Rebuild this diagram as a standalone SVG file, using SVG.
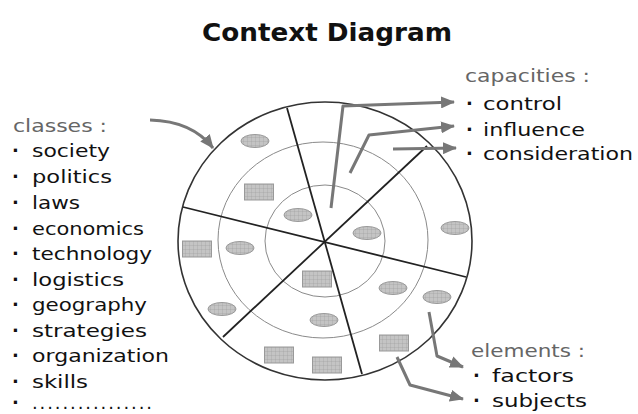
<svg xmlns="http://www.w3.org/2000/svg" width="638" height="414" viewBox="0 0 638 414">
<style>
text{font-family:"Comic Sans MS","DejaVu Sans",sans-serif;}
.t{font-size:24px;font-weight:bold;fill:#111;}
.h{font-size:18px;fill:#666;}
.i{font-size:18px;fill:#111;}
.b{font-size:18px;fill:#111;font-weight:bold;}
.outer{fill:none;stroke:#333;stroke-width:1.6;}
.ring{fill:none;stroke:#8a8a8a;stroke-width:1;}
.spoke{stroke:#222;stroke-width:1.8;}
.arr{fill:none;stroke:#777;stroke-width:3;stroke-linejoin:round;marker-end:url(#ah);}
.el{fill:url(#grid);stroke:#999;stroke-width:1;}
</style>
<defs>
<pattern id="grid" width="4" height="4" patternUnits="userSpaceOnUse">
<rect width="4" height="4" fill="#c4c4c4"/>
<path d="M0,0 H4 M0,0 V4" stroke="#9a9a9a" stroke-width="0.6"/>
</pattern>
<marker id="ah" markerUnits="userSpaceOnUse" markerWidth="14" markerHeight="12" refX="13" refY="6" orient="auto">
<path d="M0,0 L14,6 L0,12 z" fill="#777"/>
</marker>
<symbol id="ov" overflow="visible"><ellipse cx="0" cy="0" rx="14" ry="6.5" class="el"/></symbol>
<symbol id="bx" overflow="visible"><rect x="-14.5" y="-8" width="29" height="16" class="el"/></symbol>
</defs>
<rect width="638" height="414" fill="#fff"/>
<g id="title"><text class="t" x="202" y="41" textLength="250" lengthAdjust="spacingAndGlyphs">Context Diagram</text></g>
<g id="wheel">
<ellipse class="outer" cx="325" cy="241" rx="147" ry="139"/>
<ellipse class="ring" cx="323" cy="240" rx="105" ry="98"/>
<ellipse class="ring" cx="325" cy="241" rx="60" ry="56"/>
<line class="spoke" x1="287" y1="108" x2="362" y2="374"/>
<line class="spoke" x1="183" y1="207" x2="466" y2="277"/>
<line class="spoke" x1="427" y1="146" x2="223" y2="337"/>
<use href="#ov" x="255" y="141"/>
<use href="#ov" x="298" y="215"/>
<use href="#ov" x="367" y="233"/>
<use href="#ov" x="455" y="228"/>
<use href="#ov" x="240" y="248"/>
<use href="#ov" x="222" y="309"/>
<use href="#ov" x="393" y="288"/>
<use href="#ov" x="437" y="297"/>
<use href="#ov" x="324" y="320"/>
<use href="#bx" x="259" y="192"/>
<use href="#bx" x="197" y="249"/>
<use href="#bx" x="317" y="279"/>
<use href="#bx" x="394" y="343"/>
<use href="#bx" x="279" y="355"/>
<use href="#bx" x="327" y="365"/>
</g>
<g id="classes">
<text class="h" x="13" y="132" textLength="94" lengthAdjust="spacingAndGlyphs">classes :</text>
<g class="b"><text x="12" y="157">·</text><text x="12" y="183">·</text><text x="12" y="209">·</text><text x="12" y="235">·</text><text x="12" y="260">·</text><text x="12" y="286">·</text><text x="12" y="311">·</text><text x="12" y="337">·</text><text x="12" y="362">·</text><text x="12" y="388">·</text></g>
<text class="i" x="32" y="157" textLength="78" lengthAdjust="spacingAndGlyphs">society</text>
<text class="i" x="32" y="183" textLength="80" lengthAdjust="spacingAndGlyphs">politics</text>
<text class="i" x="32" y="209" textLength="48" lengthAdjust="spacingAndGlyphs">laws</text>
<text class="i" x="32" y="235" textLength="112" lengthAdjust="spacingAndGlyphs">economics</text>
<text class="i" x="32" y="260" textLength="120" lengthAdjust="spacingAndGlyphs">technology</text>
<text class="i" x="32" y="286" textLength="92" lengthAdjust="spacingAndGlyphs">logistics</text>
<text class="i" x="32" y="311" textLength="115" lengthAdjust="spacingAndGlyphs">geography</text>
<text class="i" x="32" y="337" textLength="115" lengthAdjust="spacingAndGlyphs">strategies</text>
<text class="i" x="32" y="362" textLength="137" lengthAdjust="spacingAndGlyphs">organization</text>
<text class="i" x="32" y="388" textLength="56" lengthAdjust="spacingAndGlyphs">skills</text>
<text class="i" x="12" y="409"><tspan font-weight="bold">·</tspan><tspan x="32" textLength="120" lengthAdjust="spacing">................</tspan></text>
</g>
<g id="capacities">
<text class="h" x="465" y="82" textLength="125" lengthAdjust="spacingAndGlyphs">capacities :</text>
<g class="b"><text x="466" y="110">·</text><text x="466" y="136">·</text><text x="466" y="160">·</text></g>
<text class="i" x="483" y="110" textLength="79" lengthAdjust="spacingAndGlyphs">control</text>
<text class="i" x="483" y="136" textLength="102" lengthAdjust="spacingAndGlyphs">influence</text>
<text class="i" x="483" y="160" textLength="150" lengthAdjust="spacingAndGlyphs">consideration</text>
</g>
<g id="elements">
<text class="h" x="471" y="357" textLength="114" lengthAdjust="spacingAndGlyphs">elements :</text>
<g class="b"><text x="473" y="382">·</text><text x="473" y="407">·</text></g>
<text class="i" x="492" y="382" textLength="82" lengthAdjust="spacingAndGlyphs">factors</text>
<text class="i" x="492" y="407" textLength="95" lengthAdjust="spacingAndGlyphs">subjects</text>
</g>
<g id="connectors">
<path class="arr" d="M150,120 Q192,121 213,148"/>
<path class="arr" d="M331,208 L343,106 L454,102"/>
<path class="arr" d="M350,173 L369,135 L454,126"/>
<path class="arr" d="M393,149 L456,148"/>
<path class="arr" d="M429,312 L437,356 L463,367"/>
<path class="arr" d="M397,357 L410,385 L463,399"/>
</g>
</svg>
